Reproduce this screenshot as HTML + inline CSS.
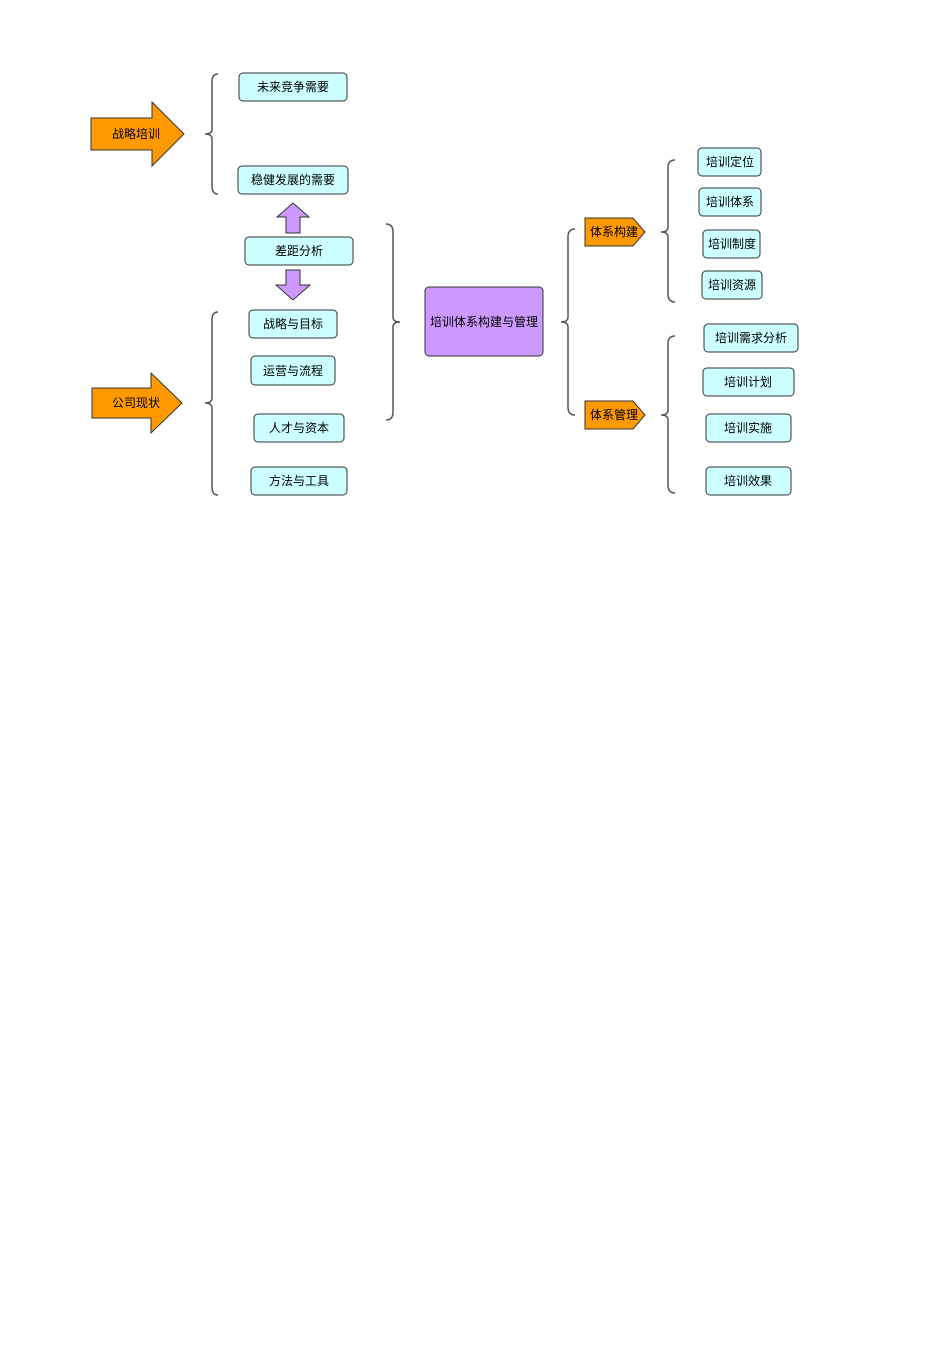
<!DOCTYPE html>
<html><head><meta charset="utf-8"><style>
body{margin:0;background:#fff}
svg text{font-family:"Liberation Sans","Noto Sans CJK SC",sans-serif;font-size:12px;text-anchor:middle;dominant-baseline:central;fill:#000}
</style></head><body>
<svg width="930" height="1365" xmlns="http://www.w3.org/2000/svg">
<g fill="#ccffff" stroke="#333" stroke-width="1">
<rect x="239" y="73" width="108" height="28" rx="4"/>
<rect x="238" y="166" width="110" height="28" rx="4"/>
<rect x="245" y="237" width="108" height="28" rx="4"/>
<rect x="249" y="310" width="88" height="28" rx="4"/>
<rect x="251" y="356" width="84" height="29" rx="4"/>
<rect x="254" y="414" width="90" height="28" rx="4"/>
<rect x="251" y="467" width="96" height="28" rx="4"/>
<rect x="698" y="148" width="63" height="28" rx="4"/>
<rect x="699" y="188" width="62" height="28" rx="4"/>
<rect x="703" y="230" width="57" height="28" rx="4"/>
<rect x="702" y="271" width="60" height="28" rx="4"/>
<rect x="704" y="324" width="94" height="28" rx="4"/>
<rect x="703" y="368" width="91" height="28" rx="4"/>
<rect x="706" y="414" width="85" height="28" rx="4"/>
<rect x="706" y="467" width="85" height="28" rx="4"/>
</g>
<rect x="425" y="287" width="118" height="69" rx="4" fill="#cc99ff" stroke="#333"/>
<g fill="#ff9900" stroke="#333">
<polygon points="91,118 152,118 152,102 184,134 152,166 152,150 91,150"/>
<polygon points="92,388 151,388 151,373 182,403 151,433 151,418 92,418"/>
<polygon points="585,218 633,218 645,232 633,246 585,246"/>
<polygon points="585,401 633,401 645,415 633,429 585,429"/>
</g>
<g fill="#cc99ff" stroke="#333">
<polygon points="293,203 309,217 300,217 300,233 286,233 286,217 277,217"/>
<polygon points="286,270 300,270 300,285 310,285 293,300 276,285 286,285"/>
</g>
<g fill="none" stroke="#555" stroke-width="1.5">
<path d="M218,74 Q212,74 212,82 L212,129 Q212,134 205,134 Q212,134 212,139 L212,186 Q212,194 218,194"/>
<path d="M218,312 Q212,312 212,320 L212,398 Q212,403 205,403 Q212,403 212,408 L212,487 Q212,495 218,495"/>
<path d="M386,224 Q393,224 393,232 L393,317 Q393,322 400,322 Q393,322 393,327 L393,412 Q393,420 386,420"/>
<path d="M575,229 Q568,229 568,237 L568,317 Q568,322 561,322 Q568,322 568,327 L568,407 Q568,415 575,415"/>
<path d="M675,160 Q668,160 668,168 L668,227 Q668,232 661,232 Q668,232 668,237 L668,294 Q668,302 675,302"/>
<path d="M675,336 Q668,336 668,344 L668,410 Q668,415 661,415 Q668,415 668,420 L668,485 Q668,493 675,493"/>
</g>
<text x="293" y="87">未来竞争需要</text>
<text x="293" y="180">稳健发展的需要</text>
<text x="299" y="251">差距分析</text>
<text x="293" y="324">战略与目标</text>
<text x="293" y="371">运营与流程</text>
<text x="299" y="428">人才与资本</text>
<text x="299" y="481">方法与工具</text>
<text x="484" y="322">培训体系构建与管理</text>
<text x="136" y="134">战略培训</text>
<text x="136" y="403">公司现状</text>
<text x="614" y="232">体系构建</text>
<text x="614" y="415">体系管理</text>
<text x="730" y="162">培训定位</text>
<text x="730" y="202">培训体系</text>
<text x="732" y="244">培训制度</text>
<text x="732" y="285">培训资源</text>
<text x="751" y="338">培训需求分析</text>
<text x="748" y="382">培训计划</text>
<text x="748" y="428">培训实施</text>
<text x="748" y="481">培训效果</text>
</svg>
</body></html>
